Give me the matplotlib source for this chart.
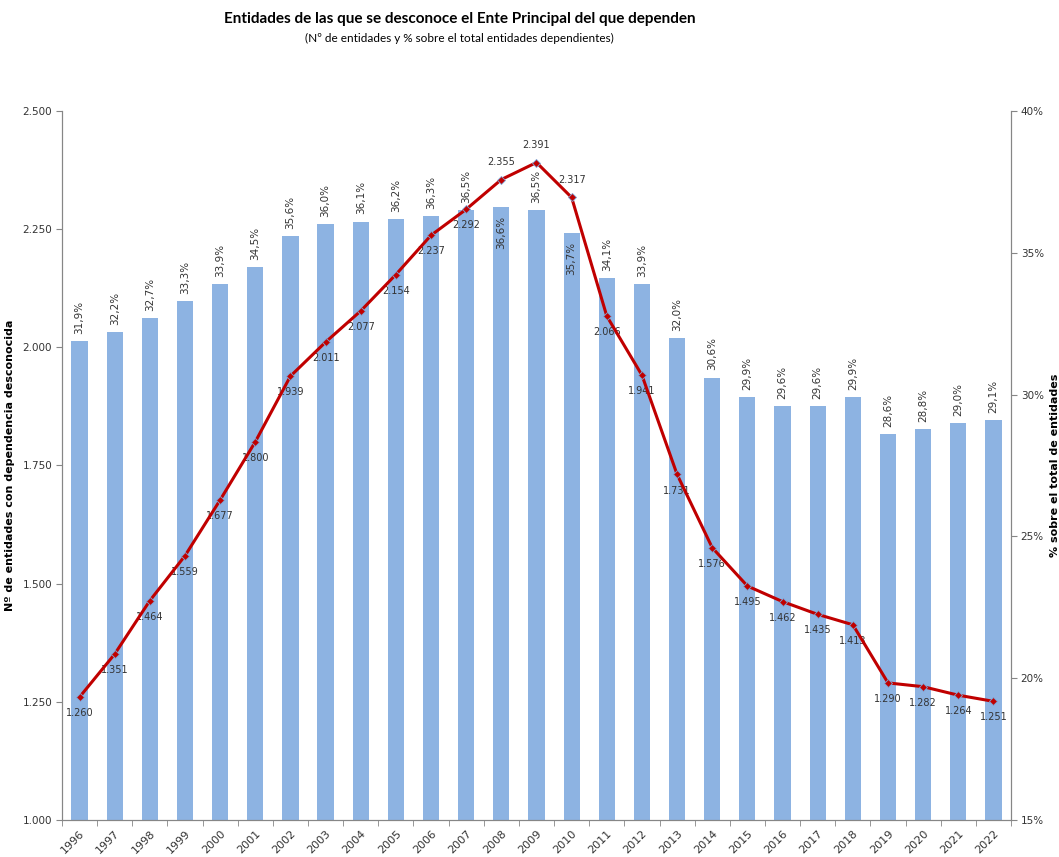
import matplotlib.pyplot as plt
import numpy as np

years = [str(y) for y in range(1996, 2023)]
pct = [31.9, 32.2, 32.7, 33.3, 33.9, 34.5, 35.6, 36.0, 36.1, 36.2, 36.3, 36.5, 36.6, 36.5,
       35.7, 34.1, 33.9, 32.0, 30.6, 29.9, 29.6, 29.6, 29.9, 28.6, 28.8, 29.0, 29.1]
counts = [1260, 1351, 1464, 1559, 1677, 1800, 1939, 2011, 2077, 2154, 2237, 2292, 2355, 2391,
          2317, 2066, 1941, 1731, 1576, 1495, 1462, 1435, 1413, 1290, 1282, 1264, 1251]

plt.rcParams['font.family'] = ['DejaVu Sans']

fig = plt.figure(figsize=(10.59, 8.57), dpi=100)
ax_pct = fig.add_axes([0.0585, 0.0432, 0.8962, 0.8273])
ax_cnt = ax_pct.twinx()

x = np.arange(len(years))
bar_col = '#8DB3E2'
line_col = '#C00000'
gray = '#868686'

# bars -> % (right axis)
ax_pct.bar(x, pct, width=0.46, color=bar_col, zorder=2)
ax_pct.set_ylim(15, 40)
ax_pct.set_xlim(-0.5, len(years) - 0.5)
ax_pct.yaxis.tick_right()
ax_pct.yaxis.set_label_position('right')
ax_pct.set_yticks([15, 20, 25, 30, 35, 40])
ax_pct.set_yticklabels(['%d%%' % v for v in [15, 20, 25, 30, 35, 40]], fontsize=7.5, color='#333333')
ax_pct.set_ylabel('% sobre el total de entidades', fontsize=8, fontweight='bold')
ax_pct.yaxis.set_label_coords(1.041, 0.5)

inside = {'2008', '2010'}
for i, v in enumerate(pct):
    txt = ('%.1f%%' % v).replace('.', ',')
    if years[i] in inside:
        ax_pct.text(x[i], v - 0.3, txt, rotation=90, ha='center', va='top', fontsize=7.5, color='#333333', zorder=5)
    else:
        ax_pct.text(x[i], v + 0.25, txt, rotation=90, ha='center', va='bottom', fontsize=7.5, color='#333333', zorder=5)

# line -> counts (left axis)
ax_cnt.plot(x, counts, color=line_col, lw=2.2, marker='D', ms=4, mfc=line_col, mec='#7DA7D9', mew=0.6, zorder=4)
ax_cnt.set_ylim(1000, 2500)
ax_cnt.yaxis.tick_left()
ax_cnt.yaxis.set_label_position('left')
ax_cnt.set_yticks([1000, 1250, 1500, 1750, 2000, 2250, 2500])
ax_cnt.set_yticklabels(['{:,.3f}'.format(v / 1000).replace(',', '.') for v in [1000, 1250, 1500, 1750, 2000, 2250, 2500]],
                       fontsize=7.5, color='#333333')
ax_cnt.set_ylabel('Nº de entidades con dependencia desconocida', fontsize=8, fontweight='bold')
ax_cnt.yaxis.set_label_coords(-0.049, 0.5)

above = {'2008', '2009', '2010'}
for i, v in enumerate(counts):
    txt = '{:,}'.format(v).replace(',', '.')
    if years[i] in above:
        ax_cnt.annotate(txt, (x[i], v), xytext=(0, 9), textcoords='offset points', ha='center', va='bottom', fontsize=7, color='#333333')
    else:
        ax_cnt.annotate(txt, (x[i], v), xytext=(0, -8), textcoords='offset points', ha='center', va='top', fontsize=7, color='#333333')

# x axis
ax_pct.set_xticks(x)
ax_pct.set_xticklabels(years, rotation=45, ha='right', rotation_mode='anchor', fontsize=8, color='#333333')
ax_pct.set_xticks(np.arange(-0.5, len(years) + 0.5, 1), minor=True)
ax_pct.tick_params(axis='x', which='major', length=0, pad=6)
ax_pct.tick_params(axis='x', which='minor', length=4, color=gray)
ax_pct.tick_params(axis='y', length=4, color=gray, pad=3)
ax_cnt.tick_params(axis='y', length=4, color=gray, pad=3)

for a in (ax_pct, ax_cnt):
    a.spines['top'].set_visible(False)
    for s in ('left', 'right', 'bottom'):
        a.spines[s].set_color(gray)

fig.text(0.434, 0.978, 'Entidades de las que se desconoce el Ente Principal del que dependen',
         ha='center', va='center', fontsize=11, fontweight='bold', family='Lato')
fig.text(0.434, 0.955, '(Nº de entidades y % sobre el total entidades dependientes)',
         ha='center', va='center', fontsize=8.5, family='Lato')

fig.savefig('out.png', dpi=100)
